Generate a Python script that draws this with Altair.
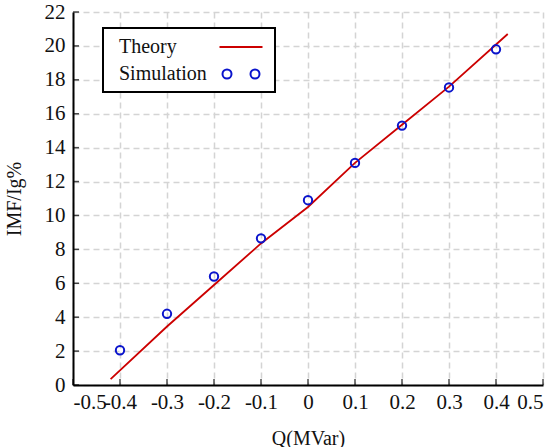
import altair as alt
import pandas as pd

# ---- data ----
q_sim = [-0.4, -0.3, -0.2, -0.1, 0.0, 0.1, 0.2, 0.3, 0.4]
i_sim = [2.05, 4.2, 6.4, 8.65, 10.9, 13.1, 15.3, 17.55, 19.8]

q_theory = [-0.42, -0.3, -0.2, -0.1, 0.0, 0.1, 0.2, 0.3, 0.425]
i_theory = [0.35, 3.45, 5.9, 8.35, 10.5, 13.1, 15.35, 17.6, 20.7]

x_ticks = [-0.5, -0.4, -0.3, -0.2, -0.1, 0.0, 0.1, 0.2, 0.3, 0.4, 0.5]
y_ticks = [0, 2, 4, 6, 8, 10, 12, 14, 16, 18, 20, 22]

series = ["Theory", "Simulation"]
colors = ["#cc0000", "#0a14cc"]

FONT = "Liberation Serif"

sim_df = pd.DataFrame({"Q": q_sim, "I": i_sim, "series": "Simulation"})
th_df = pd.DataFrame({"Q": q_theory, "I": i_theory})
ytick_df = pd.DataFrame({"Q": [x_ticks[0]] * len(y_ticks), "I": y_ticks})
xtick_df = pd.DataFrame({"Q": x_ticks, "I": [y_ticks[0]] * len(x_ticks)})

x_scale = alt.Scale(domain=[-0.5, 0.5], nice=False, zero=False)
y_scale = alt.Scale(domain=[0, 22], nice=False, zero=False)

x_enc = alt.X(
    "Q:Q",
    scale=x_scale,
    axis=alt.Axis(
        values=x_ticks,
        title="Q(MVar)",
        labelExpr="(datum.value < 0 ? '-' : '') + format(abs(datum.value), '.1~f')",
        labelFont=FONT,
        labelFontSize=21,
        labelPadding=6,
        titlePadding=16,
        labelOverlap=False,
    ),
)
y_enc = alt.Y(
    "I:Q",
    scale=y_scale,
    axis=alt.Axis(
        values=y_ticks,
        title="IMF/Ig%",
        labelFont=FONT,
        labelFontSize=21,
        labelPadding=8,
        titlePadding=20,
        labelOverlap=False,
    ),
)

ytick_layer = alt.Chart(ytick_df).mark_tick(
    orient="horizontal", size=6, thickness=1.5, color="black", xOffset=3
).encode(x=x_enc, y=y_enc)

xtick_layer = alt.Chart(xtick_df).mark_tick(
    orient="vertical", size=6, thickness=1.5, color="black", yOffset=-3
).encode(x=x_enc, y=y_enc)

line_layer = alt.Chart(th_df).mark_line(color=colors[0], strokeWidth=1.8).encode(
    x=x_enc, y=y_enc
)

two_circles = (
    "M-1.85,0A0.45,0.45 0 1,1 -0.95,0A0.45,0.45 0 1,1 -1.85,0Z"
    "M0.95,0A0.45,0.45 0 1,1 1.85,0A0.45,0.45 0 1,1 0.95,0Z"
)
line_path = "M-2.15,0L2.15,0"

point_layer = alt.Chart(sim_df).mark_point(
    filled=False, size=70, strokeWidth=2, opacity=1
).encode(
    x=x_enc,
    y=y_enc,
    color=alt.Color(
        "series:N",
        scale=alt.Scale(domain=series, range=colors),
        legend=alt.Legend(
            title=None,
            orient="none",
            legendX=30,
            legendY=16,
            symbolType={"expr": f"datum.value === 'Theory' ? '{line_path}' : '{two_circles}'"},
            symbolSize=400,
            symbolStrokeWidth=2,
            symbolFillColor="transparent",
            symbolOffset=119,
            labelOffset={"expr": "-133"},
            labelFont=FONT,
            labelFontSize=20,
            labelColor="#111111",
            strokeColor="black",
            fillColor="white",
            padding=8,
            rowPadding=6,
        ),
    ),
)

chart = (
    alt.layer(ytick_layer, xtick_layer, line_layer, point_layer)
    .properties(
        width=470,
        height=373,
        autosize="none",
        padding={"left": 73, "top": 12, "right": 17, "bottom": 62},
    )
    .configure(font=FONT)
    .configure_view(stroke=None)
    .configure_axis(
        grid=True,
        gridDash=[6, 4],
        gridColor="#d4d4d4",
        gridWidth=1.5,
        domainColor="black",
        domainWidth=2,
        ticks=False,
        labelFont=FONT,
        labelFontSize=21,
        labelColor="#111111",
        titleFont=FONT,
        titleFontSize=20,
        titleFontWeight="normal",
        titleColor="#111111",
    )
    .configure_legend(strokeWidth=2, labelFont=FONT)
)

chart.save("out.html", embed_options={"renderer": "svg", "actions": False})
